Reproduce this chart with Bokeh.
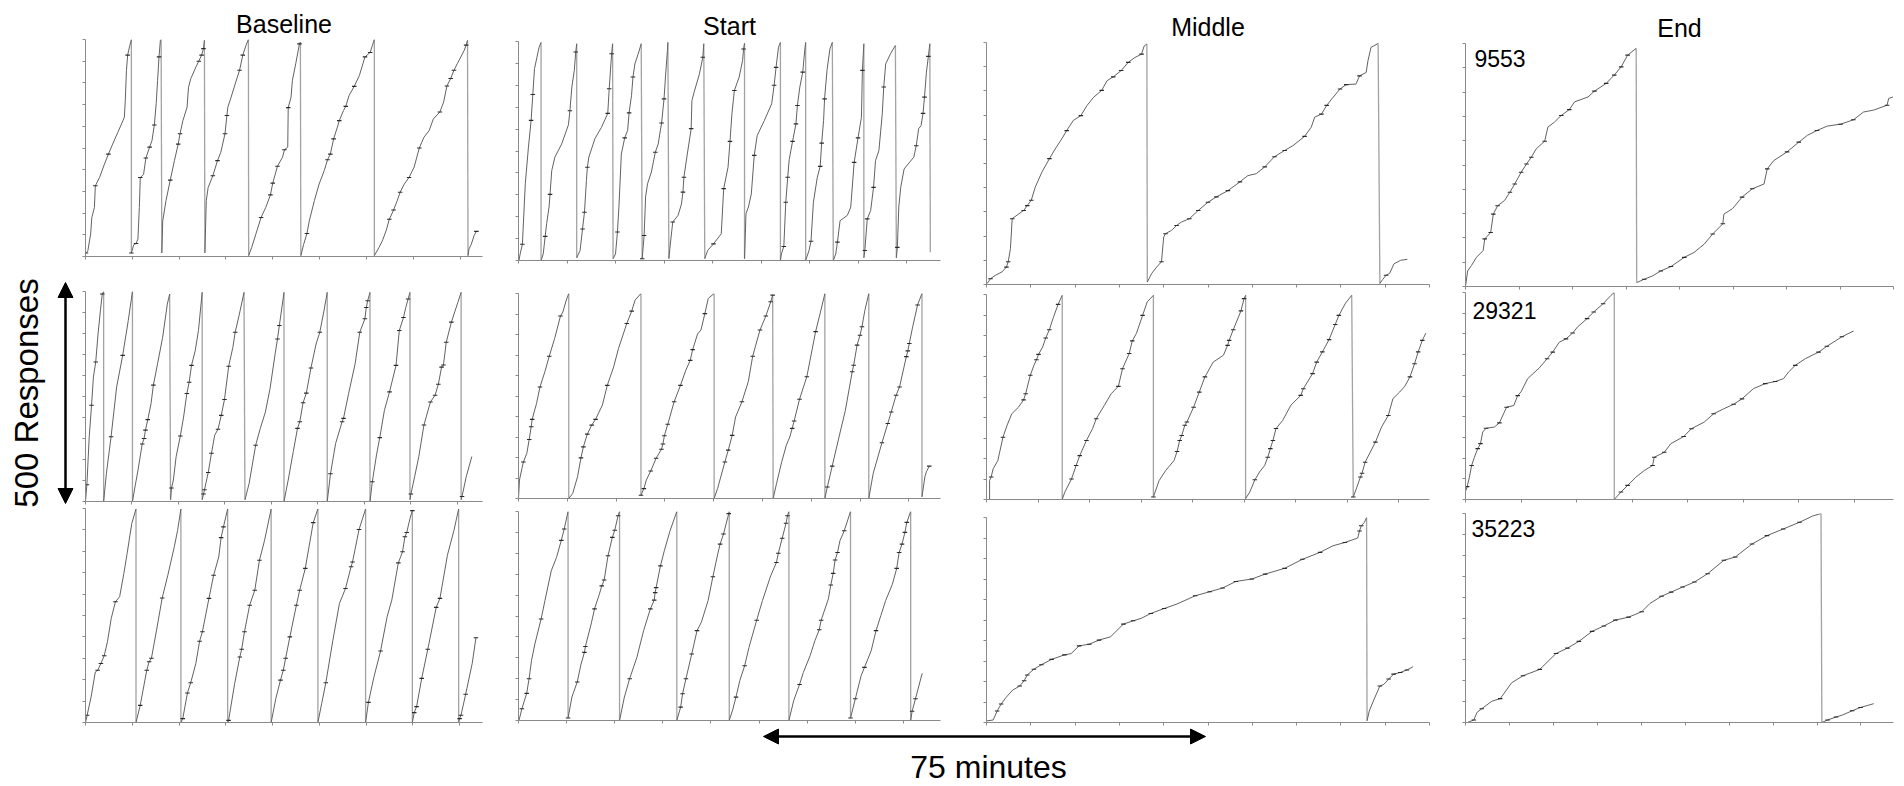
import math
from bokeh.plotting import figure
from bokeh.layouts import column, row
from bokeh.models import Range1d, SingleIntervalTicker, Arrow, NormalHead, Label
from bokeh.core.properties import value
from bokeh.embed import file_html
from bokeh.resources import INLINE

# ---------------- data ----------------
conditions = ["Baseline", "Start", "Middle", "End"]
y_scale_label = "500 Responses"
x_scale_label = "75 minutes"
end_session_labels = ["9553", "29321", "35223"]

y_max = 500          # responses before the pen resets
y_tick = 50
x_tick = 10          # time units per tick mark

baseline_xmax = [84.8, 85.4, 84.9]
start_xmax = [87.0, 86.5, 87.7]
middle_xmax = [100.0, 86.0, 100.0]
end_xmax = [80.0, 77.1, 97.4]

# each record: list of pen excursions; points are (time, cumulative responses, reinforcer pip 0/1)
baseline_1 = [
    [(0.1,8,1),(0.5,13,0),(1.1,52,0),(1.35,90,0),(1.9,113,0),(2.1,163,1),(3.0,182,0),(4.05,213,0),(4.9,236,1),(5.8,259,0),(6.9,286,0),(8.0,313,0),(8.3,321,0),(8.5,360,0),(8.75,429,0),(9.0,464,1),(9.4,483,0),(9.8,500,0)],
    [(9.8,8,1),(10.3,27,0),(10.8,30,1),(11.2,40,0),(11.5,113,0),(11.7,182,1),(12.4,189,0),(12.9,227,1),(13.7,252,1),(14.2,267,0),(14.7,303,1),(15.1,352,0),(15.4,406,0),(15.7,460,1),(16.0,498,0),(16.15,500,0)],
    [(16.3,8,0),(16.5,82,0),(17.2,129,0),(18.1,176,1),(19.0,221,0),(19.8,259,1),(20.2,283,1),(20.8,313,0),(21.7,344,0),(22.0,390,0),(22.5,410,0),(23.6,437,0),(24.2,450,1),(24.8,464,1),(25.2,479,1),(25.4,498,0)],
    [(25.5,8,0),(25.8,129,0),(26.2,159,0),(27.2,186,1),(28.2,221,1),(28.9,240,0),(29.8,283,1),(30.2,325,1),(30.4,344,0),(31.1,367,0),(32.1,402,0),(32.9,429,1),(33.6,464,1),(34.3,487,0),(34.8,500,0)],
    [(34.85,2,0),(35.5,21,0),(36.4,52,0),(37.5,90,1),(38.5,113,0),(39.5,142,1),(40.0,169,1),(41.0,208,1),(42.1,229,0),(42.5,246,1),(43.2,252,0),(43.3,343,1),(43.9,367,0),(44.2,406,0),(44.9,444,0),(45.7,490,1),(45.9,494,0)],
    [(46.0,2,0),(46.6,28,0),(47.3,53,1),(47.8,82,0),(48.9,129,0),(49.9,167,0),(51.0,198,0),(51.7,223,1),(52.3,236,1),(53.0,271,1),(53.8,298,0),(54.2,313,1),(55.1,336,0),(55.6,346,1),(56.3,371,0),(57.4,392,1),(58.5,417,0),(59.7,460,1),(60.8,470,1),(61.3,487,0),(61.7,500,0)],
    [(61.7,2,0),(62.7,21,0),(63.4,36,0),(64.2,59,0),(64.9,86,1),(65.8,107,1),(66.6,129,0),(67.2,148,1),(68.1,167,0),(69.1,182,1),(70.2,206,0),(71.3,250,1),(72.3,275,0),(73.4,290,0),(74.3,317,0),(75.7,333,1),(76.5,356,0),(77.2,393,1),(78.0,410,1),(78.7,429,1),(79.4,444,0),(80.9,475,0),(81.3,487,1),(81.6,498,0)],
    [(81.7,2,0),(81.9,17,0),(82.4,28,0),(83.0,48,0),(83.5,58,1)],
]
baseline_2 = [
    [(0,0,0),(0.3,40,1),(0.8,154,0),(1.3,229,1),(1.7,296,0),(2.2,332,1),(2.7,399,0),(3.2,454,0),(3.6,494,1),(3.9,500,0)],
    [(3.9,0,0),(4.5,67,0),(5.5,154,1),(6.7,273,0),(8.0,348,1),(9.2,431,0),(10.1,500,0)],
    [(10.1,0,0),(10.6,32,0),(11.3,75,0),(12.2,137,1),(12.6,150,1),(12.9,170,1),(13.4,195,1),(14.1,233,0),(14.6,277,1),(15.5,328,0),(16.6,391,0),(17.6,470,0),(18.1,494,0)],
    [(18.3,4,0),(18.5,32,1),(18.9,51,0),(19.5,107,0),(20.4,156,1),(21.1,201,0),(21.8,257,1),(22.3,284,1),(22.8,324,1),(23.6,359,0),(24.3,407,0),(25.1,498,0)],
    [(25.1,4,0),(25.4,18,1),(25.6,28,1),(26.4,69,1),(27.1,115,1),(27.8,158,0),(28.5,172,1),(29.2,205,1),(29.9,243,1),(30.8,322,1),(31.7,367,0),(32.2,403,1),(33.1,446,0),(34.1,498,0)],
    [(34.3,4,0),(35.2,43,0),(36.6,134,1),(37.6,174,0),(38.7,213,0),(39.7,269,0),(40.8,352,0),(41.3,387,1),(41.7,419,1),(42.7,498,0)],
    [(42.7,0,0),(43.6,51,0),(44.7,119,0),(45.6,174,1),(46.1,190,1),(46.8,235,1),(47.5,258,1),(48.5,318,1),(49.6,375,0),(50.4,403,1),(51.3,454,0),(52.0,498,0)],
    [(52.0,0,0),(52.7,66,1),(53.8,138,0),(55.2,190,1),(55.5,198,1),(56.6,257,0),(58.0,328,0),(59.0,403,1),(60.1,435,1),(60.4,462,1),(60.7,478,1),(61.2,498,0)],
    [(61.2,0,0),(61.7,47,1),(62.6,111,0),(63.3,152,1),(64.3,217,0),(65.4,261,1),(66.8,324,1),(67.5,407,1),(68.4,438,1),(68.9,462,0),(69.4,482,1),(69.8,498,0)],
    [(69.8,4,0),(70.0,18,1),(70.8,59,0),(71.7,107,0),(72.8,182,1),(74.2,237,1),(75.2,253,1),(75.9,279,1),(76.6,320,1),(77.0,325,1),(77.6,379,1),(78.7,427,1),(80.1,474,0),(80.8,498,0)],
    [(80.8,4,0),(81.0,12,1),(81.9,59,0),(83.1,107,0)],
]
baseline_3 = [
    [(0,0,0),(0.35,17,1),(1.2,60,0),(2.1,118,0),(2.6,122,1),(3.3,138,1),(4.0,156,1),(4.7,189,0),(5.5,243,0),(6.4,282,1),(7.3,294,0),(8.2,348,0),(8.9,395,0),(9.9,465,0),(10.8,499,0)],
    [(10.8,0,0),(11.7,40,1),(13.1,122,1),(13.6,142,1),(14.1,150,1),(15.2,216,0),(16.4,291,1),(17.6,344,0),(19.0,411,0),(19.7,449,0),(20.4,499,0)],
    [(20.4,0,0),(20.8,9,1),(21.8,69,1),(22.5,93,1),(23.6,138,0),(24.4,190,1),(25.0,212,1),(26.4,290,1),(27.4,344,1),(28.5,387,0),(29.0,432,1),(29.5,457,1),(30.4,499,0)],
    [(30.4,0,0),(30.6,5,1),(31.9,91,0),(33.0,153,1),(33.4,171,1),(34.0,212,1),(35.1,274,1),(36.2,309,1),(37.2,379,1),(38.3,426,0),(39.7,499,0)],
    [(39.7,0,0),(40.7,56,0),(41.7,99,1),(42.3,122,1),(42.8,150,1),(43.7,200,1),(45.1,274,1),(45.8,309,1),(47.0,360,1),(48.7,467,1),(49.7,499,0)],
    [(49.7,0,0),(50.5,44,0),(51.4,93,1),(52.9,192,0),(54.3,278,0),(55.6,313,1),(56.8,364,1),(57.1,375,1),(58.5,451,1),(59.9,499,0)],
    [(59.9,0,0),(60.5,47,1),(61.7,107,0),(63.1,167,1),(64.5,247,0),(65.5,286,0),(66.9,373,1),(67.8,399,1),(68.3,434,1),(68.7,444,1),(69.4,477,0),(69.9,495,1)],
    [(69.9,0,0),(70.3,23,1),(70.8,37,1),(71.9,103,1),(73.2,171,1),(75.0,269,1),(75.8,290,1),(77.4,391,0),(78.8,449,0),(79.8,499,0)],
    [(79.8,0,0),(80.0,9,1),(80.3,17,1),(81.3,66,1),(82.7,138,0),(83.5,198,1)],
]
start_1 = [
    [(0.1,0,0),(0.34,15,0),(0.8,37,1),(1.4,175,0),(2.05,259,0),(2.6,320,1),(2.95,379,1),(3.3,438,0),(3.8,464,0),(4.25,487,0),(4.65,498,0)],
    [(4.65,0,0),(5.1,15,0),(5.5,55,1),(5.8,84,0),(6.3,122,0),(6.5,151,1),(6.85,205,0),(7.5,236,0),(8.9,266,0),(10.3,310,0),(10.6,342,1),(11.0,396,0),(11.5,434,0),(11.8,476,1),(12.0,495,0)],
    [(12.0,6,0),(12.7,23,0),(13.2,72,1),(13.6,110,1),(14.0,183,0),(14.2,213,1),(14.5,236,0),(15.75,278,0),(17.1,304,0),(18.4,336,1),(18.7,392,1),(19.2,472,1),(19.4,495,0)],
    [(19.5,4,0),(20.0,15,0),(20.4,65,1),(20.7,122,0),(21.2,243,0),(21.9,280,1),(22.5,297,0),(22.8,337,1),(23.3,377,0),(23.6,419,1),(24.0,449,0),(24.8,476,0),(25.3,495,0)],
    [(25.5,4,1),(25.9,57,1),(26.2,145,0),(26.6,175,0),(27.4,202,0),(28.2,247,1),(28.8,266,0),(29.5,314,1),(30.0,369,1),(30.3,419,0),(30.7,479,0),(30.8,498,0)],
    [(31.0,4,0),(31.2,27,0),(31.8,88,1),(32.9,103,0),(33.6,129,0),(33.9,156,1),(34.1,190,1),(34.8,243,0),(35.6,301,1),(35.75,365,0),(36.2,384,0),(37.3,426,0),(38.0,464,1),(38.2,495,0)],
    [(38.4,4,0),(39.0,23,0),(40.2,38,1),(41.8,61,0),(42.3,164,1),(43.2,213,0),(43.6,272,1),(44.0,335,0),(44.5,388,1),(45.5,419,0),(46.2,457,0),(46.4,483,1),(46.6,496,0)],
    [(46.6,4,0),(46.9,107,0),(47.4,122,0),(48.0,152,0),(48.6,240,1),(49.2,285,0),(50.7,320,0),(52.2,358,0),(52.7,400,1),(53.1,441,1),(53.6,487,0),(54.0,498,0)],
    [(54.0,0,0),(54.2,15,0),(54.7,32,1),(55.1,133,1),(55.5,190,1),(55.8,230,0),(56.5,272,1),(57.2,312,1),(57.5,354,1),(58.0,396,0),(58.6,430,1),(59.0,479,0),(59.2,498,0)],
    [(59.2,0,0),(59.9,23,0),(60.3,44,1),(60.8,133,0),(61.6,190,0),(62.2,215,1),(62.5,268,1),(62.9,320,0),(63.1,369,1),(63.6,434,0),(64.2,483,0),(64.7,498,0)],
    [(64.9,0,0),(65.4,15,0),(65.75,42,1),(66.3,91,0),(67.8,103,0),(68.5,122,0),(69.2,224,1),(70.0,280,1),(70.7,327,0),(70.9,434,1),(71.2,495,0)],
    [(71.2,6,0),(71.4,23,1),(71.9,95,1),(72.6,114,0),(73.2,167,1),(73.6,228,0),(74.3,251,0),(75.0,335,0),(75.3,396,1),(75.7,449,0),(76.7,472,0),(77.7,491,0)],
    [(77.9,6,0),(78.1,30,1),(78.4,122,0),(78.8,167,0),(79.5,209,0),(81.5,236,0),(82.0,262,1),(82.5,301,0),(83.0,308,0),(83.4,336,1),(83.7,373,1),(84.1,430,0),(84.5,466,1),(84.8,495,0)],
    [(84.9,19,0)],
]
start_2 = [
    [(0,0,0),(0.2,45,0),(0.7,73,0),(1.0,89,1),(1.7,110,0),(2.2,144,1),(2.6,175,1),(2.8,193,1),(3.7,232,0),(4.4,272,1),(5.4,309,0),(6.3,347,1),(7.4,390,0),(8.6,445,1),(9.1,455,0),(9.8,484,0),(10.3,500,0)],
    [(10.3,0,0),(11.1,12,0),(12.1,53,0),(12.8,99,1),(13.3,126,1),(14.1,157,1),(15.0,179,1),(15.8,193,1),(17.2,228,0),(18.2,276,1),(19.5,321,0),(20.5,366,0),(22.2,427,1),(23.2,457,1),(23.9,484,0),(25.1,500,0)],
    [(25.1,8,1),(25.7,24,1),(26.2,45,0),(27.1,67,1),(28.2,98,1),(29.3,120,1),(29.6,133,1),(29.9,153,1),(30.6,181,1),(31.9,236,1),(33.2,276,1),(34.3,313,0),(35.2,337,1),(35.7,363,1),(36.7,401,0),(37.4,411,0),(38.2,451,1),(38.9,488,0),(40.1,500,0)],
    [(40.1,0,0),(40.8,24,0),(42.3,89,1),(43.0,118,1),(43.8,154,1),(44.5,199,0),(45.8,236,1),(47.1,285,0),(48.0,347,1),(49.5,411,1),(50.7,445,1),(51.7,480,1),(52.1,496,1)],
    [(52.2,0,0),(52.9,37,0),(53.9,87,0),(54.9,130,0),(55.6,150,0),(56.1,171,1),(56.5,189,1),(57.6,242,1),(59.1,297,1),(60.9,407,1),(61.9,455,0),(62.8,500,0)],
    [(62.8,0,0),(63.3,28,1),(64.3,79,1),(65.7,150,0),(67.0,215,0),(68.4,309,1),(68.7,325,1),(69.4,374,1),(70.0,398,1),(70.4,419,1),(71.0,459,0),(71.8,500,0)],
    [(71.8,0,0),(72.7,61,0),(74.5,136,1),(75.7,183,1),(76.4,211,1),(77.4,252,1),(78.1,272,1),(79.5,346,1),(79.8,360,1),(80.1,378,1),(80.8,419,0),(81.8,472,1),(82.7,500,0)],
    [(82.7,4,0),(83.3,53,0),(83.6,65,0),(84.2,79,1)],
]
start_3 = [
    [(0.1,0,0),(0.7,28,1),(1.7,65,1),(2.2,100,1),(2.7,143,0),(3.4,183,0),(4.7,243,1),(5.5,287,0),(6.8,358,0),(7.9,390,0),(8.9,431,1),(9.5,458,1),(10.3,500,0)],
    [(10.3,6,1),(11.1,56,0),(12.2,92,1),(13.0,135,0),(13.7,163,1),(13.9,177,1),(15.1,231,0),(15.8,267,1),(16.8,302,0),(17.3,322,1),(17.8,336,1),(18.6,394,1),(19.5,438,1),(20.0,455,1),(20.7,490,1),(21.0,500,0)],
    [(21.0,0,0),(22.0,56,0),(23.1,100,1),(24.6,151,0),(26.0,215,0),(27.4,267,1),(28.2,288,1),(28.4,306,1),(28.6,318,1),(29.5,370,1),(30.3,406,0),(31.5,454,0),(32.9,500,0)],
    [(32.9,0,0),(33.7,32,1),(34.1,64,1),(34.8,100,1),(36.0,159,1),(37.1,215,1),(38.0,235,0),(39.4,287,0),(40.4,344,1),(41.4,398,0),(41.9,422,1),(42.6,446,1),(43.7,495,1),(43.8,500,0)],
    [(43.8,0,0),(44.5,25,0),(45.2,56,1),(46.0,96,0),(47.0,131,1),(47.9,175,0),(49.5,240,1),(50.7,287,0),(52.4,346,0),(53.6,378,1),(54.0,400,1),(54.8,436,1),(55.6,472,1),(55.9,490,1),(56.2,500,0)],
    [(56.2,0,0),(57.2,48,0),(58.4,86,1),(59.2,115,0),(60.6,155,0),(61.6,191,0),(62.5,217,1),(62.9,240,1),(64.4,291,0),(64.9,324,1),(65.4,352,1),(65.8,384,1),(66.3,402,1),(66.8,430,0),(67.7,454,1),(69.0,500,0)],
    [(69.0,6,1),(70.0,52,1),(71.2,107,0),(71.9,127,1),(73.3,167,0),(74.3,215,1),(75.3,251,0),(76.3,287,0),(77.7,326,0),(78.6,364,1),(79.1,402,1),(79.7,422,1),(80.3,450,1),(80.7,474,1),(81.5,500,0)],
    [(81.5,0,0),(81.8,22,1),(82.5,52,1),(83.9,113,0)],
]
middle_1 = [
    [(0.15,2,0),(0.9,12,1),(2.0,19,0),(3.5,26,0),(4.5,36,1),(4.9,47,1),(5.4,74,0),(5.8,136,1),(7.3,146,0),(8.4,153,1),(9.2,163,1),(10.1,174,1),(11.0,201,0),(12.5,232,0),(14.2,260,1),(15.5,280,0),(17.0,301,0),(18.1,318,1),(19.6,339,0),(21.3,349,1),(22.7,370,0),(24.2,387,0),(26.0,401,1),(27.2,421,0),(28.6,429,1),(30.4,442,1),(32.0,459,1),(33.5,469,0),(35.0,476,1),(35.6,493,0),(36.2,497,0)],
    [(36.3,5,0),(37.3,23,0),(38.4,36,0),(39.5,47,1),(40.0,98,0),(40.4,105,1),(41.8,112,0),(42.9,122,1),(44.0,129,0),(45.8,136,1),(47.8,153,1),(50.0,170,1),(51.9,181,1),(54.5,194,1),(57.2,212,1),(59.0,225,0),(60.9,229,0),(62.8,243,1),(65.0,264,1),(67.3,277,1),(69.2,287,0),(71.8,306,1),(73.3,325,0),(74.1,346,0),(75.6,352,1),(76.8,370,1),(77.9,383,0),(79.8,404,1),(81.2,413,1),(83.4,414,0),(84.2,431,1),(85.7,438,0),(86.1,462,0),(86.8,490,0),(88.4,498,0)],
    [(88.8,2,0),(89.4,10,0),(90.2,19,1),(91.0,23,0),(92.0,43,0),(93.5,50,0),(95.0,52,0)],
]
middle_2 = [
    [(0.6,0,0),(0.6,46,0),(0.9,55,1),(1.3,75,0),(2.2,95,0),(3.2,152,1),(4.0,181,0),(4.9,209,0),(6.2,225,0),(7.2,243,1),(7.6,258,1),(8.5,303,1),(9.2,327,0),(9.7,341,1),(10.1,354,1),(10.9,372,0),(11.5,394,1),(12.2,414,1),(12.9,441,0),(13.9,476,1),(14.7,498,0)],
    [(14.7,0,0),(15.2,18,0),(16.5,50,1),(17.4,83,1),(18.1,107,1),(19.4,144,1),(20.6,173,0),(21.3,197,1),(22.9,230,0),(24.2,258,0),(25.6,276,1),(26.4,319,1),(27.7,356,1),(28.3,387,1),(29.1,405,0),(30.3,449,1),(31.2,482,0),(32.4,498,0)],
    [(32.4,6,1),(33.5,46,0),(34.8,71,0),(36.4,95,0),(37.0,117,1),(37.5,144,1),(37.9,156,1),(38.5,181,1),(38.9,189,1),(40.2,225,1),(41.3,262,1),(42.4,299,1),(44.0,335,0),(46.0,352,0),(46.8,376,1),(47.1,388,1),(47.9,414,1),(49.4,460,1),(50.0,490,1),(50.3,498,0)],
    [(50.3,2,0),(51.1,18,0),(52.1,48,1),(53.0,67,0),(54.0,83,0),(54.6,103,1),(55.1,124,1),(55.6,144,1),(56.2,173,1),(57.5,193,0),(59.1,230,0),(61.0,254,1),(61.5,270,1),(63.3,307,1),(64.1,335,1),(65.2,360,1),(66.5,390,1),(67.7,427,1),(68.4,449,1),(69.7,479,0),(70.9,498,0)],
    [(71.2,6,1),(71.9,30,0),(72.6,55,1),(72.9,64,1),(73.5,91,1),(75.5,140,1),(76.7,177,0),(78.0,205,1),(78.9,246,0),(80.2,262,0),(81.2,276,0),(82.2,299,1),(83.1,331,1),(83.8,360,1),(84.6,388,1),(85.3,406,0)],
]
middle_3 = [
    [(0,4,0),(1.5,6,0),(2.4,28,1),(3.3,45,1),(4.4,61,0),(5.9,79,0),(7.5,89,1),(8.5,102,1),(9.2,116,1),(10.7,130,1),(12.4,141,1),(14.7,154,1),(17.6,165,1),(19.1,168,0),(20.9,187,1),(23.2,191,1),(25.4,201,1),(28.0,209,0),(30.9,240,1),(33.1,248,1),(34.9,254,0),(37.1,266,1),(40.1,278,1),(43.0,289,0),(47.1,309,1),(50.4,319,1),(53.3,328,1),(56.3,344,1),(59.9,350,1),(62.9,362,1),(67.3,376,1),(71.3,398,1),(75.3,415,1),(78.2,431,0),(80.9,439,1),(83.8,450,0),(84.2,467,1),(84.6,480,1),(85.3,488,0),(85.8,500,0)],
    [(85.9,4,0),(86.4,28,0),(87.5,57,0),(88.8,89,1),(89.7,93,0),(90.8,106,1),(91.9,118,1),(93.4,122,1),(94.9,128,1),(96.3,136,0)],
]
end_1 = [
    [(0,0,0),(0.4,32,0),(1.1,43,0),(2.05,60,0),(3.3,74,0),(3.6,98,1),(4.7,111,1),(5.2,149,1),(6.0,166,1),(7.3,177,0),(8.3,194,1),(9.2,211,1),(10.4,235,1),(11.4,252,1),(12.3,266,1),(13.2,283,0),(14.8,299,1),(15.4,328,0),(16.6,338,0),(17.9,352,1),(19.4,364,1),(20.4,380,0),(22.9,390,0),(24.1,402,1),(26.3,418,1),(27.8,435,1),(29.1,452,1),(30.3,476,1),(31.9,490,0)],
    [(32.0,8,0),(33.4,15,1),(35.0,22,0),(36.5,32,1),(38.4,41,1),(40.9,60,1),(42.7,70,0),(44.6,87,0),(46.2,108,1),(48.1,129,1),(48.3,149,0),(49.9,160,0),(51.7,184,1),(53.6,201,1),(55.8,211,0),(56.4,242,1),(57.6,259,0),(60.1,277,1),(62.3,297,1),(63.9,311,0),(65.7,321,1),(67.6,330,0),(70.1,334,1),(72.5,343,1),(74.4,359,0),(76.3,363,0),(78.8,373,1),(79.1,387,0),(79.9,390,0)],
]
end_2 = [
    [(0.1,22,0),(0.3,31,1),(0.7,54,0),(1.1,82,1),(1.6,102,0),(2.2,123,1),(2.7,135,1),(3.1,163,0),(3.7,172,1),(5.2,175,0),(6.1,185,1),(7.4,223,1),(8.7,227,0),(9.4,251,1),(10.0,260,0),(11.2,292,0),(13.3,318,0),(14.7,340,1),(15.7,356,1),(16.9,380,0),(18.1,388,1),(19.3,402,1),(20.2,417,0),(21.9,437,1),(23.1,453,1),(24.8,473,1),(26.2,493,0),(26.8,500,0)],
    [(26.8,0,0),(28.0,18,1),(29.2,34,1),(30.7,54,0),(32.2,70,0),(33.7,82,1),(34.0,102,1),(35.8,114,1),(37.0,135,0),(39.3,152,1),(40.7,171,1),(43.0,187,0),(44.7,207,1),(46.5,219,0),(48.3,230,1),(49.8,243,1),(51.9,268,0),(54.0,280,1),(55.8,285,1),(57.3,292,0),(58.2,308,0),(59.4,324,1),(61.2,340,0),(63.6,356,1),(65.1,370,1),(67.8,393,1),(69.9,407,0)],
]
end_3 = [
    [(0.4,0,0),(1.9,6,1),(2.6,24,0),(3.7,33,1),(6.0,51,0),(7.9,57,1),(10.5,95,0),(13.1,112,1),(16.9,127,1),(20.6,165,1),(23.2,178,1),(25.8,194,1),(28.8,218,1),(31.5,231,1),(34.1,245,1),(37.1,252,1),(40.1,265,1),(42.0,285,0),(44.6,302,1),(46.8,312,1),(49.4,324,1),(52.1,336,1),(55.1,356,1),(58.8,388,1),(61.4,396,1),(65.2,427,1),(68.6,447,1),(72.3,463,1),(76.0,479,1),(79.0,494,0),(80.9,500,0)],
    [(81.1,0,0),(82.4,6,1),(84.3,13,1),(85.8,18,0),(88.0,28,1),(89.9,36,1),(92.9,45,0)],
]

records = [
    [baseline_1, baseline_2, baseline_3],
    [start_1, start_2, start_3],
    [middle_1, middle_2, middle_3],
    [end_1, end_2, end_3],
]
xmaxes = [baseline_xmax, start_xmax, middle_xmax, end_xmax]

# ---------------- layout / style ----------------
FONT = "Liberation Sans"
CURVE = "#626262"
RESET = "#a2a2a2"
AXIS = "#8a8a8a"
PIP = "#2a2a2a"

LEFT_W = 76
GRID_H = 726
COL_W = [429, 455, 490, 454]
ROW_H = [[260, 245, 221], [264, 238, 224], [288, 215, 223], [290, 213, 223]]
# (left, right, top, bottom) borders of each record
BORDERS = [
    [(8, 23, 39, 4), (9, 15, 31, 4), (8, 16, 3, 4)],
    [(12, 20, 41, 4), (13, 13, 29, 4), (12, 17, 9, 6)],
    [(24, 21, 42, 4), (26, 17, 6, 4), (17, 20, 14, 4)],
    [(14, 11, 43, 4), (14, 11, 2, 4), (15, 6, 10, 4)],
]
LABEL_PX = [(9, 6), (7, 9), (6, 6)]   # label inset from frame's top-left, px


def frame_size(ci, ri):
    left, right, top, bottom = BORDERS[ci][ri]
    return COL_W[ci] - left - right, ROW_H[ci][ri] - top - bottom


def make_record(ci, ri):
    segs = records[ci][ri]
    xmax = xmaxes[ci][ri]
    left, right, top, bottom = BORDERS[ci][ri]
    p = figure(width=COL_W[ci], height=ROW_H[ci][ri],
               x_range=Range1d(0, xmax), y_range=Range1d(0, y_max),
               output_backend="svg", toolbar_location=None,
               title=conditions[ci] if ri == 0 else None,
               min_border_left=left, min_border_right=right,
               min_border_top=top, min_border_bottom=bottom)
    p.grid.visible = False
    p.outline_line_color = None
    p.background_fill_color = "white"
    p.border_fill_color = "white"
    for ax in p.axis:
        ax.axis_line_color = AXIS
        ax.axis_line_width = 1
        ax.major_tick_line_color = AXIS
        ax.minor_tick_line_color = None
        ax.major_tick_out = 3
        ax.major_tick_in = 0
        ax.major_label_text_color = None
        ax.major_label_text_font_size = "0px"
        ax.major_label_standoff = 0
    p.xaxis.ticker = SingleIntervalTicker(interval=x_tick)
    p.yaxis.ticker = SingleIntervalTicker(interval=y_tick)

    if ri == 0:
        p.title.text_font = FONT
        p.title.text_font_size = "25px"
        p.title.text_font_style = "normal"
        p.title.text_color = "black"
        p.title.align = "center"
        p.title.standoff = 3

    # pen resets
    rx0, ry0, rx1, ry1 = [], [], [], []
    for a, b in zip(segs[:-1], segs[1:]):
        rx0.append(a[-1][0]); ry0.append(a[-1][1])
        rx1.append(b[0][0]); ry1.append(b[0][1])
    p.segment(rx0, ry0, rx1, ry1, line_color=RESET, line_width=1.3)

    xs = [[pt[0] for pt in s] for s in segs if len(s) > 1]
    ys = [[pt[1] for pt in s] for s in segs if len(s) > 1]
    p.multi_line(xs, ys, line_color=CURVE, line_width=1)

    px = [pt[0] for s in segs for pt in s if pt[2]]
    py = [pt[1] for s in segs for pt in s if pt[2]]
    p.scatter(px, py, marker="dash", size=4.5, line_color=PIP, line_width=1.1)

    if ci == 3:
        fw, fh = frame_size(ci, ri)
        ix, iy = LABEL_PX[ri]
        p.add_layout(Label(x=ix * xmax / fw, y=y_max - iy * y_max / fh,
                           text=end_session_labels[ri], text_font=FONT,
                           text_font_size="23px", text_color="black",
                           text_align="left", text_baseline="top"))
    return p


# left strip: vertical scale bar aligned with the middle Baseline record
fw, fh = frame_size(0, 1)
rpp = y_max / fh                                  # responses per pixel
b2_top = ROW_H[0][0] + BORDERS[0][1][2]           # page y of the record's top
b2_bot = b2_top + fh
left_fig = figure(width=LEFT_W, height=GRID_H, x_range=Range1d(0, LEFT_W),
                  y_range=Range1d(-(GRID_H - b2_bot) * rpp, y_max + b2_top * rpp),
                  output_backend="svg", toolbar_location=None, min_border=0, title=None)
left_fig.axis.visible = False
left_fig.grid.visible = False
left_fig.outline_line_color = None
head = dict(size=15, fill_color="black", line_color="black")
arr_lo, arr_hi = -2 * rpp, y_max + 9 * rpp
left_fig.add_layout(Arrow(start=NormalHead(**head), end=NormalHead(**head),
                          x_start=65, y_start=arr_lo, x_end=65, y_end=arr_hi,
                          line_color="black", line_width=2.5))
left_fig.text(x=[26], y=[(arr_lo + arr_hi) / 2], text=[y_scale_label],
              text_font=value(FONT), text_font_size="33px", angle=math.pi / 2,
              text_align="center", text_baseline="middle", text_color="black")

columns = [left_fig]
for ci in range(4):
    columns.append(column(*[make_record(ci, ri) for ri in range(3)], spacing=0))

# bottom strip with the time scale bar
TOTAL_W = LEFT_W + sum(COL_W)
STRIP_H = 60
bot = figure(width=TOTAL_W, height=STRIP_H, x_range=Range1d(0, TOTAL_W),
             y_range=Range1d(STRIP_H, 0), output_backend="svg", toolbar_location=None,
             min_border=0, title=None)
bot.axis.visible = False
bot.grid.visible = False
bot.outline_line_color = None
bot.add_layout(Arrow(start=NormalHead(**head), end=NormalHead(**head),
                     x_start=763, y_start=10, x_end=1205, y_end=10,
                     line_color="black", line_width=2.5))
bot.text(x=[988], y=[40], text=[x_scale_label], text_font=value(FONT),
         text_font_size="32px", text_align="center", text_baseline="middle",
         text_color="black")

layout = column(row(*columns, spacing=0), bot, spacing=0)

open("out.html", "w").write(file_html(layout, INLINE))
